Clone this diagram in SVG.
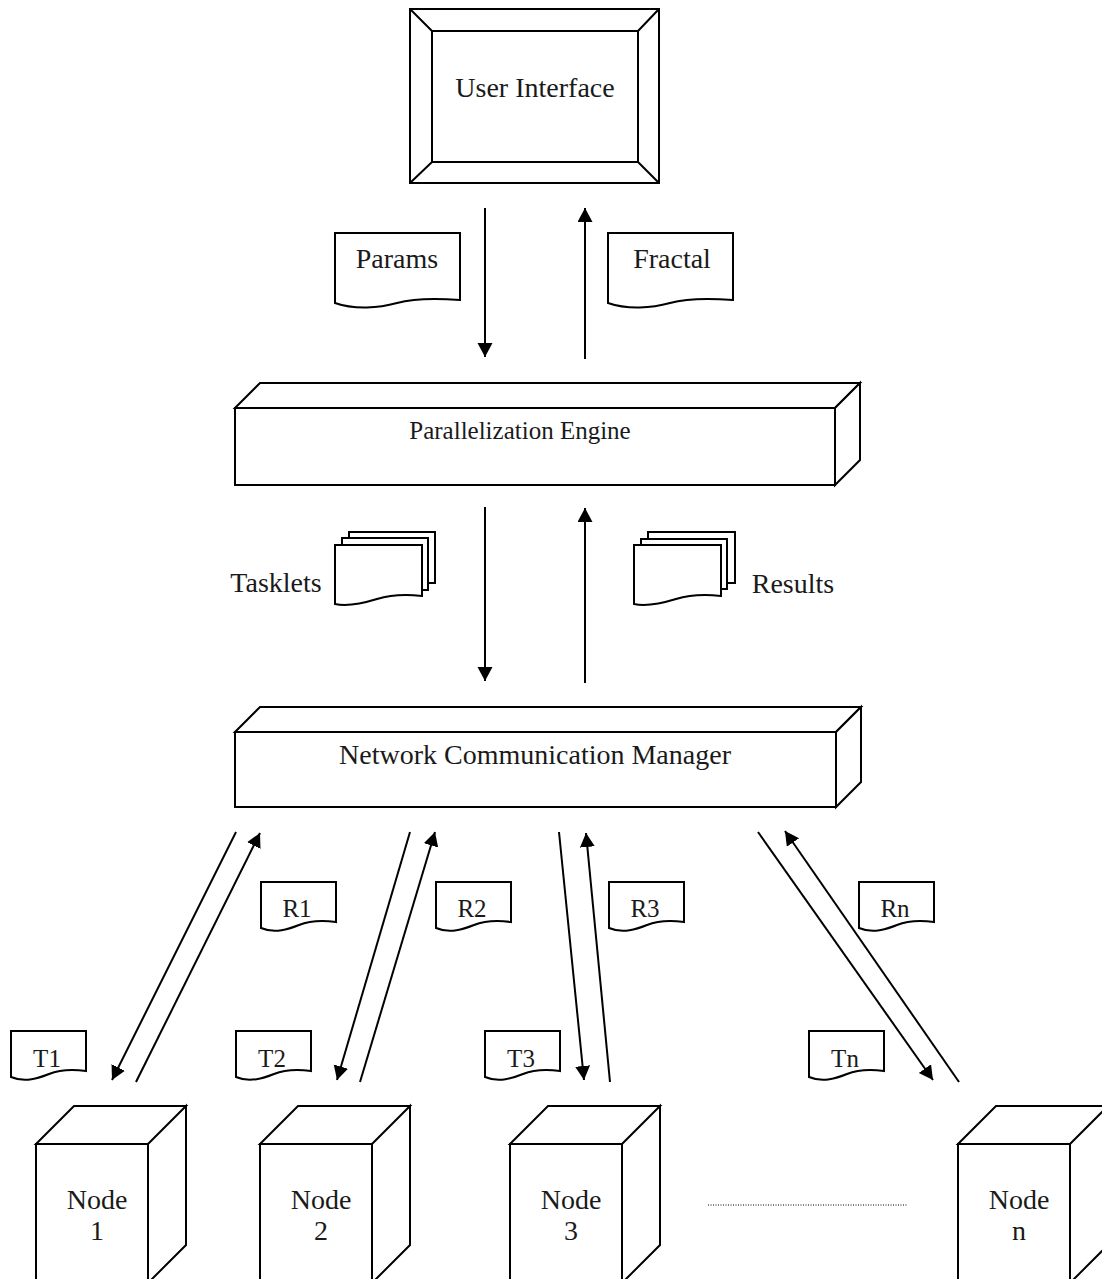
<svg xmlns="http://www.w3.org/2000/svg" width="1102" height="1279" viewBox="0 0 1102 1279">
<style>
.s{fill:#fff;stroke:#000;stroke-width:2;stroke-linejoin:miter}
.c{fill:none;stroke:#000;stroke-width:2}
.t{font-family:"Liberation Serif","Times New Roman",serif;fill:#1a1a1a;text-anchor:middle}
.big{font-size:28px}
.sm{font-size:25px}
</style>
<defs>
<marker id="ah" markerWidth="16" markerHeight="16" refX="14" refY="7.5" orient="auto" markerUnits="userSpaceOnUse">
<path d="M0,0 L14,7.5 L0,15 Z" fill="#000"/>
</marker>
<path id="sdoc" d="M0,0 H75 V40 C60,38 48,39 38,43 S14,52 0,46 Z"/>
<path id="bdoc" d="M0,0 H125 V67 C100,65 80,65 62,70 S20,77 0,70 Z"/>
<path id="pdoc" d="M0,0 H87 V51 C70,49 55,50 42,54 S14,62 0,59 Z"/>
<path id="node" d="M0,38 H112 V190 H0 Z M0,38 L38,0 H150 L112,38 Z M112,38 L150,0 V139 L112,177 Z"/>
</defs>

<g id="user-interface">
<rect class="s" x="410" y="9" width="249" height="174"/>
<rect class="s" x="432" y="31" width="206" height="131"/>
<path class="s" d="M410,9 L432,31 M659,9 L638,31 M410,183 L432,162 M659,183 L638,162"/>
<text class="t big" x="535" y="97">User Interface</text>
</g>

<g id="params">
<use href="#bdoc" class="s" x="335" y="233"/>
<text class="t big" x="397" y="268">Params</text>
</g>
<g id="fractal">
<use href="#bdoc" class="s" x="608" y="233"/>
<text class="t big" x="672" y="268">Fractal</text>
</g>

<g id="parallelization-engine">
<path class="s" d="M235,408 L260,383 H860 L835,408 Z"/>
<path class="s" d="M835,408 L860,383 V460 L835,485 Z"/>
<rect class="s" x="235" y="408" width="600" height="77"/>
<text class="t" x="520" y="439" font-size="25">Parallelization Engine</text>
</g>

<g id="tasklets">
<rect class="s" x="349" y="532" width="86" height="51"/>
<rect class="s" x="342" y="538" width="86" height="52"/>
<use href="#pdoc" class="s" x="335" y="545"/>
<text class="t big" x="276" y="592">Tasklets</text>
</g>
<g id="results">
<rect class="s" x="648" y="532" width="87" height="51"/>
<rect class="s" x="641" y="539" width="86" height="50"/>
<use href="#pdoc" class="s" x="634" y="545"/>
<text class="t big" x="793" y="593">Results</text>
</g>

<g id="network-communication-manager">
<path class="s" d="M235,732 L260,707 H861 L836,732 Z"/>
<path class="s" d="M836,732 L861,707 V782 L836,807 Z"/>
<rect class="s" x="235" y="732" width="601" height="75"/>
<text class="t big" x="535" y="764">Network Communication Manager</text>
</g>

<g id="r1"><use href="#sdoc" class="s" x="261" y="882"/><text class="t sm" x="297" y="917">R1</text></g>
<g id="r2"><use href="#sdoc" class="s" x="436" y="882"/><text class="t sm" x="472" y="917">R2</text></g>
<g id="r3"><use href="#sdoc" class="s" x="609" y="882"/><text class="t sm" x="645" y="917">R3</text></g>
<g id="rn"><use href="#sdoc" class="s" x="859" y="882"/><text class="t sm" x="895" y="917">Rn</text></g>

<g id="t1"><use href="#sdoc" class="s" x="11" y="1031"/><text class="t sm" x="47" y="1067">T1</text></g>
<g id="t2"><use href="#sdoc" class="s" x="236" y="1031"/><text class="t sm" x="272" y="1067">T2</text></g>
<g id="t3"><use href="#sdoc" class="s" x="485" y="1031"/><text class="t sm" x="521" y="1067">T3</text></g>
<g id="tn"><use href="#sdoc" class="s" x="809" y="1031"/><text class="t sm" x="845" y="1067">Tn</text></g>

<g id="node-1"><use href="#node" class="s" x="36" y="1106"/><text class="t big" x="97" y="1209">Node</text><text class="t big" x="97" y="1240">1</text></g>
<g id="node-2"><use href="#node" class="s" x="260" y="1106"/><text class="t big" x="321" y="1209">Node</text><text class="t big" x="321" y="1240">2</text></g>
<g id="node-3"><use href="#node" class="s" x="510" y="1106"/><text class="t big" x="571" y="1209">Node</text><text class="t big" x="571" y="1240">3</text></g>
<g id="node-n"><use href="#node" class="s" x="958" y="1106"/><text class="t big" x="1019" y="1209">Node</text><text class="t big" x="1019" y="1240">n</text></g>

<g id="connectors">
<line class="c" x1="485" y1="208" x2="485" y2="357" marker-end="url(#ah)"/>
<line class="c" x1="585" y1="359" x2="585" y2="208" marker-end="url(#ah)"/>
<line class="c" x1="485" y1="507" x2="485" y2="681" marker-end="url(#ah)"/>
<line class="c" x1="585" y1="683" x2="585" y2="508" marker-end="url(#ah)"/>
<line class="c" x1="236" y1="832" x2="112" y2="1080" marker-end="url(#ah)"/>
<line class="c" x1="136" y1="1082" x2="260" y2="833" marker-end="url(#ah)"/>
<line class="c" x1="410" y1="832" x2="337" y2="1080" marker-end="url(#ah)"/>
<line class="c" x1="360" y1="1082" x2="435" y2="832" marker-end="url(#ah)"/>
<line class="c" x1="559" y1="832" x2="584" y2="1080" marker-end="url(#ah)"/>
<line class="c" x1="610" y1="1082" x2="586" y2="833" marker-end="url(#ah)"/>
<line class="c" x1="758" y1="832" x2="933" y2="1080" marker-end="url(#ah)"/>
<line class="c" x1="959" y1="1082" x2="785" y2="831" marker-end="url(#ah)"/>
<line x1="708" y1="1205" x2="907" y2="1205" stroke="#000" stroke-width="1" stroke-dasharray="1,1.5"/>
</g>
</svg>
